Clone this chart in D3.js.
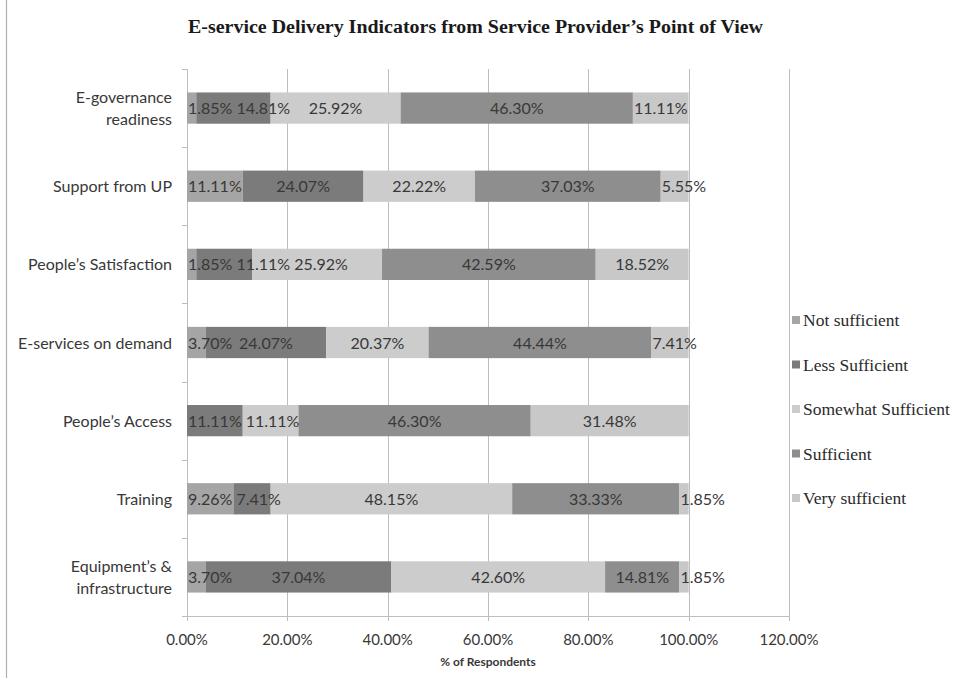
<!DOCTYPE html>
<html>
<head>
  <meta charset="utf-8">
  <title>E-service Delivery Indicators</title>
  <style>
    body { margin: 0; background: #fff; }
    svg { display: block; }
  </style>
</head>
<body>
  <svg id="chart"></svg>
  <script src="https://cdnjs.cloudflare.com/ajax/libs/d3/7.8.5/d3.min.js"></script>
  <script>
    // categories, top to bottom
    const categories = [
      "E-governance readiness",
      "Support from UP",
      "People’s Satisfaction",
      "E-services on demand",
      "People’s Access",
      "Training",
      "Equipment’s & infrastructure"
    ];
    // wrapped category labels as they appear
    const categoryLines = [
      ["E-governance", "readiness"],
      ["Support from UP"],
      ["People’s Satisfaction"],
      ["E-services on demand"],
      ["People’s Access"],
      ["Training"],
      ["Equipment’s &", "infrastructure"]
    ];
    const seriesNames = ["Not sufficient", "Less Sufficient", "Somewhat Sufficient", "Sufficient", "Very sufficient"];
    const notSufficient      = [1.85, 11.11, 1.85, 3.70, 0, 9.26, 3.70];
    const lessSufficient     = [14.81, 24.07, 11.11, 24.07, 11.11, 7.41, 37.04];
    const somewhatSufficient = [25.92, 22.22, 25.92, 20.37, 11.11, 48.15, 42.60];
    const sufficient         = [46.30, 37.03, 42.59, 44.44, 46.30, 33.33, 14.81];
    const verySufficient     = [11.11, 5.55, 18.52, 7.41, 31.48, 1.85, 1.85];
    const xTicks = [0, 20, 40, 60, 80, 100, 120];
    const colors = ["#a5a5a5", "#7b7b7b", "#cccccc", "#8e8e8e", "#c8c8c8"];

    const width = 953, height = 678;
    const margin = { top: 69, left: 187, right: 164, bottom: 62 };
    const innerW = width - margin.left - margin.right;
    const innerH = height - margin.top - margin.bottom;

    const svg = d3.select("#chart").attr("width", width).attr("height", height);

    // outer left border of the figure
    svg.append("line")
      .attr("x1", 6.5).attr("x2", 6.5).attr("y1", 0).attr("y2", height)
      .attr("stroke", "#b0b0b0").attr("stroke-width", 1.2);

    // build table from the series arrays
    const series = [notSufficient, lessSufficient, somewhatSufficient, sufficient, verySufficient];
    const rows = categories.map((c, i) => {
      const r = { category: c };
      seriesNames.forEach((s, j) => { r[s] = series[j][i]; });
      return r;
    });
    const stacked = d3.stack().keys(seriesNames)(rows);

    const x = d3.scaleLinear().domain([0, 120]).range([0, innerW]);
    const y = d3.scaleBand().domain(categories).range([0, innerH]).paddingInner(0.6).paddingOuter(0.3);

    const g = svg.append("g").attr("transform", `translate(${margin.left},${margin.top})`);

    // vertical gridlines
    g.append("g").selectAll("line")
      .data(xTicks)
      .join("line")
      .attr("x1", d => Math.round(x(d)) + 0.5).attr("x2", d => Math.round(x(d)) + 0.5)
      .attr("y1", 0).attr("y2", innerH + 5)
      .attr("stroke", "#bdbdbd").attr("stroke-width", 1);

    // category axis line + band ticks
    g.append("line")
      .attr("x1", 0.5).attr("x2", 0.5).attr("y1", 0).attr("y2", innerH)
      .attr("stroke", "#bdbdbd");
    const step = innerH / categories.length;
    g.append("g").selectAll("line")
      .data(d3.range(categories.length + 1))
      .join("line")
      .attr("x1", -5).attr("x2", 0)
      .attr("y1", d => Math.round(d * step) + 0.5).attr("y2", d => Math.round(d * step) + 0.5)
      .attr("stroke", "#bdbdbd");
    // value axis line
    g.append("line")
      .attr("x1", -5).attr("x2", innerW).attr("y1", innerH + 0.5).attr("y2", innerH + 0.5)
      .attr("stroke", "#bdbdbd");

    // bars
    const layers = g.append("g").selectAll("g")
      .data(stacked)
      .join("g")
      .attr("fill", (d, i) => colors[i]);
    layers.selectAll("rect")
      .data(d => d)
      .join("rect")
      .attr("x", d => x(d[0]))
      .attr("width", d => x(d[1]) - x(d[0]))
      .attr("y", d => y(d.data.category))
      .attr("height", y.bandwidth());

    // data labels: centered on segment, nudged right when they collide
    const labelFont = "16px Lato, 'Open Sans', sans-serif";
    const ctx = document.createElement("canvas").getContext("2d");
    ctx.font = labelFont;
    const labelG = g.append("g")
      .style("font", labelFont).attr("fill", "#383838");
    categories.forEach((c, i) => {
      let prevEnd = -Infinity;
      stacked.forEach(layer => {
        const d = layer[i];
        const v = d[1] - d[0];
        if (v <= 0) return;
        const txt = v.toFixed(2) + "%";
        const w = ctx.measureText(txt).width;
        let left = (x(d[0]) + x(d[1])) / 2 - w / 2;
        left = Math.max(left, x(d[0]) + 1, prevEnd + 4);
        prevEnd = left + w;
        labelG.append("text")
          .attr("x", left)
          .attr("y", y(c) + y.bandwidth() / 2 + 6)
          .text(txt);
      });
    });

    // category labels
    const catG = g.append("g")
      .style("font", "16px Lato, 'Open Sans', sans-serif").attr("fill", "#383838")
      .attr("text-anchor", "end");
    categories.forEach((c, i) => {
      const lines = categoryLines[i];
      const cy = y(c) + y.bandwidth() / 2;
      const t = catG.append("text").attr("x", -15);
      lines.forEach((l, k) => {
        t.append("tspan")
          .attr("x", -15)
          .attr("y", cy + 6 + (k - (lines.length - 1) / 2) * 22)
          .text(l);
      });
    });

    // x tick labels
    g.append("g")
      .style("font", "15px Lato, 'Open Sans', sans-serif").attr("fill", "#383838")
      .attr("text-anchor", "middle")
      .selectAll("text")
      .data(xTicks)
      .join("text")
      .attr("x", d => x(d))
      .attr("y", innerH + 29)
      .text(d => d.toFixed(2) + "%");

    // axis title
    g.append("text")
      .attr("x", x(60))
      .attr("y", innerH + 50)
      .attr("text-anchor", "middle")
      .style("font", "bold 12px Lato, 'Open Sans', sans-serif")
      .attr("fill", "#383838")
      .text("% of Respondents");

    // title
    svg.append("text")
      .attr("x", 188).attr("y", 33)
      .attr("textLength", 575).attr("lengthAdjust", "spacingAndGlyphs")
      .style("font", "bold 18px 'Liberation Serif', 'DejaVu Serif', serif")
      .attr("fill", "#1a1a1a")
      .text("E-service Delivery Indicators  from Service Provider’s  Point of View");

    // legend
    const legend = svg.append("g").attr("transform", "translate(792,321)");
    const item = legend.selectAll("g")
      .data(seriesNames)
      .join("g")
      .attr("transform", (d, i) => `translate(0,${i * 44.5})`);
    item.append("rect")
      .attr("x", 0).attr("y", -5).attr("width", 8).attr("height", 8)
      .attr("fill", (d, i) => colors[i]);
    item.append("text")
      .attr("x", 11).attr("y", 5)
      .style("font", "17.5px 'Liberation Serif', 'DejaVu Serif', serif")
      .attr("fill", "#2a2a2a")
      .text(d => d);
  </script>
</body>
</html>
